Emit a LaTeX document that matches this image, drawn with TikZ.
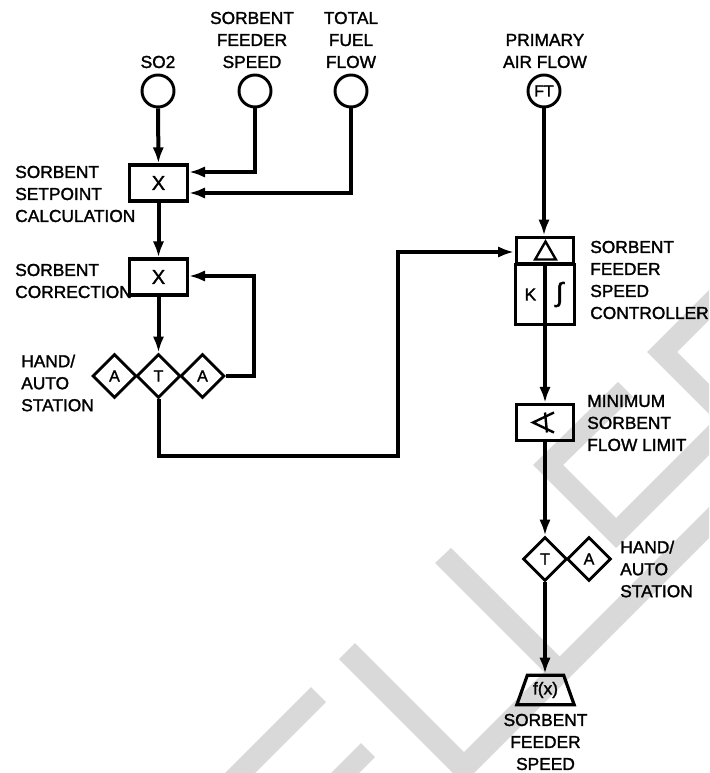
\documentclass[tikz,border=0pt]{standalone}
\usepackage{fontspec}
\usepackage{amsmath}
\newfontfamily\labelfont[FakeBold=1.6]{Liberation Sans}
\usetikzlibrary{calc,arrows.meta,shapes.geometric}
\definecolor{markgray}{HTML}{D9D9D9}
\tikzset{
  labeltext/.style={font=\fontsize{13}{16.5}\selectfont\labelfont,align=left,inner sep=0pt},
  labelmid/.style={labeltext,align=center},
  wire/.style={line width=3pt,line join=miter},
  feed/.style={wire,-{Latex[length=12pt,width=8.5pt]}},
  signalin/.style={circle,draw,line width=2.2pt,minimum size=24pt,inner sep=0pt,font=\fontsize{12}{13}\selectfont\labelfont},
  blockbox/.style={rectangle,draw,line width=2.4pt,minimum width=43pt,minimum height=27pt,inner sep=0pt,font=\fontsize{15}{16}\selectfont\labelfont},
  station/.style={diamond,draw,aspect=1,line width=2.2pt,minimum width=33pt,minimum height=33pt,inner sep=0pt,font=\fontsize{12}{13}\selectfont\labelfont},
}

\begin{document}
\begin{tikzpicture}[x=0.75pt,y=-0.75pt]
  \useasboundingbox (0,0) rectangle (709,773);
  % watermark strokes
  \fill[markgray] (311,687)--(326,702)--(255,773)--(225,773)--cycle;
  \fill[markgray] (361,743)--(375,757)--(359,773)--(331,773)--cycle;
  \fill[markgray] (355,643)--(464,752)--(544,672)--(435,563)--(451,548)--(559.5,656.5)--(709,507)--(709,538)--(474,773)--(453,773)--(339,659)--cycle;
  \fill[markgray] (709,290)--(647,352)--(709,414)--(709,384)--(677,352)--(709,320)--cycle;
  \fill[markgray] (618,382)--(533,465)--(616,548)--(709,455)--(709,425)--(616,518)--(563,465)--(633,397)--cycle;

  % inputs
  \node[signalin] (so2in) at (158,91) {};
  \node[signalin] (speedin) at (255,91) {};
  \node[signalin] (fuelin) at (351,91) {};
  \node[signalin] (airin) at (544,91) {FT};
  \node[labelmid] (so2txt) at (158,62) {SO2};
  \node[labelmid] (speedtxt) at (252,40) {SORBENT\\FEEDER\\SPEED};
  \node[labelmid] (fueltxt) at (351,40) {TOTAL\\FUEL\\FLOW};
  \node[labelmid] (airtxt) at (545,51) {PRIMARY\\AIR FLOW};

  % left column
  \node[blockbox] (setbox) at (158.5,183) {X};
  \node[blockbox] (corrbox) at (158.5,277) {X};
  \node[station] (handa) at (114.5,376) {A};
  \node[station] (handt) at (158.5,376) {T};
  \node[station] (handb) at (202.5,376) {A};
  \coordinate (setfeed) at (189,172);
  \coordinate (setfuel) at (189,193);
  \coordinate (corrback) at (189,276);
  \node[labeltext,anchor=west] (settxt) at (15,194) {SORBENT\\SETPOINT\\CALCULATION};
  \node[labeltext,anchor=west] (corrtxt) at (15,281) {SORBENT\\CORRECTION};
  \node[labeltext,anchor=west] (handtxt) at (21,383) {HAND/\\AUTO\\STATION};

  % right column
  \node[blockbox,minimum height=20pt] (ctrlerr) at (545,250.5) {};
  \node[blockbox,minimum width=22pt,minimum height=45pt,font=\fontsize{13}{14}\selectfont\labelfont] (ctrlk) at (530.4,294.5) {K};
  \node[blockbox,minimum width=22pt,minimum height=45pt,font=\fontsize{20}{22}\selectfont\labelfont] (ctrli) at (559.6,294.5) {∫};
  \node[regular polygon,regular polygon sides=3,draw,line width=1.8pt,minimum size=18pt,inner sep=0pt] (ctrltri) at (545.5,253.5) {};
  \node[blockbox] (minbox) at (545,422.5) {};
  \draw[line width=1.8pt] ($(minbox)+(9,-10)$) -- ($(minbox)+(-12,0)$) -- ($(minbox)+(9,10)$);
  \draw[line width=1.8pt] ($(minbox)+(0,-10)$) -- ($(minbox)+(2,10)$);
  \node[station] (speedt) at (545,559) {T};
  \node[station] (speeda) at (589,559) {A};
  \node[trapezium,draw,line width=2.4pt,trapezium stretches=true,trapezium left angle=66,trapezium right angle=66,minimum width=43pt,minimum height=22pt,inner sep=0pt,font=\fontsize{13}{14}\selectfont\labelfont] (fxbox) at (545.5,690) {f(x)};
  \coordinate (ctrlin) at (514,252);
  \node[labeltext,anchor=west] (ctrltxt) at (590,280) {SORBENT\\FEEDER\\SPEED\\CONTROLLER};
  \node[labeltext,anchor=west] (mintxt) at (587,423) {MINIMUM\\SORBENT\\FLOW LIMIT};
  \node[labeltext,anchor=west] (stationtxt) at (620,569) {HAND/\\AUTO\\STATION};
  \node[labelmid] (outtxt) at (545.5,742) {SORBENT\\FEEDER\\SPEED};

  % connectors
  \draw[feed] (so2in)--(setbox);
  \draw[feed] (speedin.south) |- (setfeed);
  \draw[feed] (fuelin.south) |- (setfuel);
  \draw[feed] (setbox)--(corrbox);
  \draw[feed] (corrbox)--(handt);
  \draw[feed] (handb.east)-|(254,276)--(corrback);
  \draw[feed] (handt.south)|-(398,456)|-(ctrlin);
  \draw[feed] (airin.south)--(airin.south |- ctrlerr.north);
  \draw[feed] (ctrlerr.south |- ctrlk.south)--(minbox.north);
  \draw[feed] (minbox.south)--(speedt.north);
  \draw[feed] (speedt.south)--(speedt.south |- fxbox.north);
\end{tikzpicture}
\end{document}
